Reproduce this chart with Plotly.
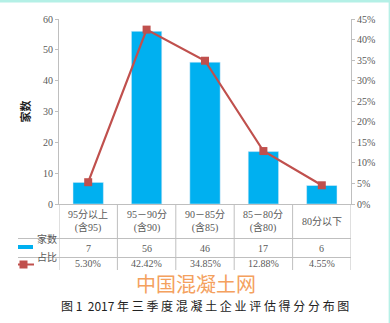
import plotly.graph_objects as go

# Score bands, company counts and share of total
categories = ["95分以上", "95－90分", "90－85分", "85－80分", "80分以下"]
category_notes = ["(含95)", "(含90)", "(含85)", "(含80)", ""]
counts = [7, 56, 46, 17, 6]
shares = [5.30, 42.42, 34.85, 12.88, 4.55]
left_ticks = [0, 10, 20, 30, 40, 50, 60]
right_ticks = [0, 5, 10, 15, 20, 25, 30, 35, 40, 45]

W, H = 390, 323
L, R, T, B = 59, 39, 19, 119
PW, PH = W - L - R, H - T - B

BAR = "#00b0f0"
LINE = "#c0504d"
GRID = "#bfbfbf"
TXT = "#595959"
FONT = "Liberation Serif, Noto Sans CJK SC"


def py(p):
    """pixel row -> paper y"""
    return (H - B - p) / PH


def px(p):
    """pixel column -> paper x"""
    return (p - L) / PW


fig = go.Figure()
idx = list(range(len(categories)))
fig.add_trace(go.Bar(x=idx, y=counts, marker_color=BAR, width=0.52, name="家数"))
fig.add_trace(go.Scatter(x=idx, y=shares, yaxis="y2", mode="lines+markers",
                         line=dict(color=LINE, width=2.2),
                         marker=dict(symbol="square", size=8, color=LINE),
                         name="占比"))

shapes = []
ann = []
n = len(categories)
# table grid: vertical separators at category boundaries
for i in range(n + 1):
    shapes.append(dict(type="line", xref="x", yref="paper", x0=i - 0.5, x1=i - 0.5,
                       y0=py(204), y1=py(270), line=dict(color=GRID, width=1)))
for row in (238.5, 257.5):
    shapes.append(dict(type="line", xref="paper", yref="paper", x0=px(18), x1=1,
                       y0=py(row), y1=py(row), line=dict(color=GRID, width=1)))

# table contents
for i in idx:
    label = categories[i] + ("<br>" + category_notes[i] if category_notes[i] else "")
    ann.append(dict(x=i, y=py(221.5), xref="x", yref="paper", text=label, showarrow=False,
                    font=dict(size=10, color=TXT, family=FONT), yanchor="middle"))
    ann.append(dict(x=i, y=py(248), xref="x", yref="paper", text=str(counts[i]), showarrow=False,
                    font=dict(size=10, color=TXT, family=FONT), yanchor="middle"))
    ann.append(dict(x=i, y=py(263), xref="x", yref="paper", text=f"{shares[i]:.2f}%", showarrow=False,
                    font=dict(size=10, color=TXT, family=FONT), yanchor="middle"))

# row legends
shapes.append(dict(type="line", xref="paper", yref="paper", x0=px(18), x1=px(33),
                   y0=py(247), y1=py(247), line=dict(color=BAR, width=4)))
shapes.append(dict(type="line", xref="paper", yref="paper", x0=px(18), x1=px(34),
                   y0=py(264.5), y1=py(264.5), line=dict(color=LINE, width=2)))
shapes.append(dict(type="rect", xref="paper", yref="paper", x0=px(19.5), x1=px(27.5),
                   y0=py(268.5), y1=py(260.5), fillcolor=LINE, line=dict(width=0)))
ann.append(dict(x=px(35), y=py(247), xref="paper", yref="paper", text="家数", showarrow=False,
                xanchor="left", font=dict(size=10, color=TXT, family=FONT)))
ann.append(dict(x=px(35), y=py(264.5), xref="paper", yref="paper", text="占比", showarrow=False,
                xanchor="left", font=dict(size=10, color=TXT, family=FONT)))

# watermark and caption
ann.append(dict(x=px(196), y=py(283.5), xref="paper", yref="paper", text="中国混凝土网", showarrow=False,
                font=dict(size=20, color="#f4a15e", family="Noto Sans CJK SC"), yanchor="middle"))
ann.append(dict(x=px(205), y=py(305), xref="paper", yref="paper",
                text="图 1  2017 年 三 季 度 混 凝 土 企 业 评 估 得 分 分 布 图", showarrow=False,
                font=dict(size=12, color="#222222", family="Noto Sans CJK SC"), yanchor="middle"))

# frame edges
shapes.append(dict(type="rect", xref="paper", yref="paper", x0=px(0), x1=px(W), y0=py(2.5), y1=py(0),
                   fillcolor="#b4f0e6", line=dict(width=0)))
shapes.append(dict(type="line", xref="paper", yref="paper", x0=px(389.3), x1=px(389.3), y0=py(0), y1=py(H),
                   line=dict(color="#b4f0e6", width=1.3)))

fig.update_layout(
    width=W, height=H, margin=dict(l=L, r=R, t=T, b=B),
    paper_bgcolor="white", plot_bgcolor="white", showlegend=False,
    shapes=shapes, annotations=ann,
    xaxis=dict(range=[-0.5, n - 0.5], showticklabels=False, showgrid=False, zeroline=False,
               showline=True, linecolor=GRID, linewidth=1, fixedrange=True),
    yaxis=dict(range=[0, 60], tickvals=left_ticks, showgrid=False, zeroline=False,
               showline=True, linecolor=GRID, linewidth=1,
               ticks="outside", ticklen=3, tickcolor=GRID,
               tickfont=dict(size=10, color=TXT, family=FONT),
               title=dict(text="<b>家数</b>", font=dict(size=11, color="#222222", family="Noto Sans CJK SC"),
                          standoff=10)),
    yaxis2=dict(range=[0, 45], overlaying="y", side="right", tickvals=right_ticks,
                ticktext=[f"{v}%" for v in right_ticks], showgrid=False, zeroline=False,
                showline=True, linecolor=GRID, linewidth=1,
                ticks="outside", ticklen=3, tickcolor=GRID,
                tickfont=dict(size=10, color=TXT, family=FONT)),
)

fig.write_html("out.html")
